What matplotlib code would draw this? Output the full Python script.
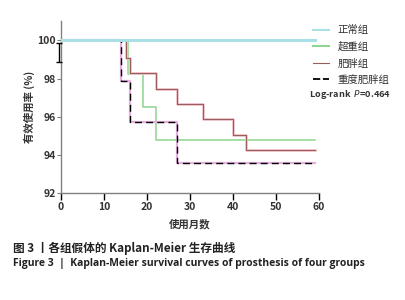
import matplotlib
matplotlib.use("Agg")
import matplotlib.pyplot as plt
from matplotlib.lines import Line2D

plt.rcParams['font.family'] = ['Noto Sans CJK SC', 'DejaVu Sans']

# Data (months, survival %)
normal_t = [0, 59]
normal_s = [100, 100]
over_t = [0, 15.5, 19, 22, 59]
over_s = [100, 98.25, 96.5, 94.8, 94.8]
obese_t = [0, 15, 16, 22, 27, 33, 40, 43, 59]
obese_s = [100, 99.1, 98.3, 97.46, 96.68, 95.89, 95.07, 94.27, 94.27]
severe_t = [0, 14, 16, 27, 59]
severe_s = [100, 97.9, 95.72, 93.6, 93.6]

labels = ['正常组', '超重组', '肥胖组', '重度肥胖组']
xticks = [0, 10, 20, 30, 40, 50, 60]
yticks = [92, 94, 96, 98, 100]

fig = plt.figure(figsize=(4.05, 3.0), dpi=100)
ax = fig.add_axes([0.1506, 0.3557, 0.788 - 0.1506, 0.929 - 0.3557])

c_normal = '#a8e0e6'
c_over = '#8fd48f'
ax.step(over_t, over_s, where='post', color=c_over, lw=1.1, zorder=3)
ax.step(obese_t, obese_s, where='post', color='#f2c6cc', lw=2.0, zorder=3)
ax.step(obese_t, obese_s, where='post', color='#9a5c5c', lw=0.8, zorder=4)
ax.step(severe_t, severe_s, where='post', color='#e8b0e0', lw=1.6, zorder=4)
ax.step(severe_t, severe_s, where='post', color='black', lw=1.0, ls=(0, (5, 3)), zorder=5)
ax.step(normal_t, normal_s, where='post', color=c_normal, lw=2.2, zorder=6)

# bracket marker near y-axis
ax.errorbar([-0.4], [99.35], yerr=[[0.5], [0.5]], fmt='none', ecolor='black',
            elinewidth=1.0, capsize=2.5, capthick=1.0, clip_on=False, zorder=7)

ax.set_xlim(0, 60)
ax.set_ylim(92, 101)
ax.set_xticks(xticks)
ax.set_yticks(yticks)
for s in ['top', 'right']:
    ax.spines[s].set_visible(False)
for s in ['left', 'bottom']:
    ax.spines[s].set_color('#808080')
    ax.spines[s].set_linewidth(1.0)
ax.tick_params(axis='x', direction='out', length=5, width=1.0, color='black',
               labelsize=7.5, pad=1.5)
ax.tick_params(axis='y', direction='out', length=3, width=0.8, color='#808080',
               labelsize=7.5, pad=1)
for lab in ax.get_xticklabels() + ax.get_yticklabels():
    lab.set_fontweight('bold')
    lab.set_color('#333333')

ax.set_xlabel('使用月数', fontsize=7.5, fontweight='bold', color='#333333', labelpad=5)
ax.set_ylabel('有效使用率 (%)', fontsize=7.5, fontweight='bold', color='#333333', labelpad=1)

handles = [
    Line2D([], [], color=c_normal, lw=1.5),
    Line2D([], [], color=c_over, lw=1.5),
    Line2D([], [], color='#9a5c5c', lw=0.8),
    Line2D([], [], color='black', lw=1.3, ls=(0, (4, 1.5))),
]
leg = fig.legend(handles, labels, loc='upper left', bbox_to_anchor=(0.762, 0.93),
                 frameon=False, fontsize=7.5, handlelength=1.6, handletextpad=0.8,
                 labelspacing=0.62, borderaxespad=0)
for t in leg.get_texts():
    t.set_color('#333333')

fig.text(0.763, 0.685, 'Log-rank  $P$=0.464', fontsize=6.6, fontweight='bold',
         color='#333333', ha='left', va='center')

fig.text(0.032, 0.173, '图 3 丨各组假体的 Kaplan-Meier 生存曲线', fontsize=8.4,
         fontweight='bold', color='#222222', ha='left', va='center')
fig.text(0.032, 0.122, 'Figure 3  |  Kaplan-Meier survival curves of prosthesis of four groups',
         fontsize=7.5, fontweight='bold', color='#222222', ha='left', va='center',
         family=['Open Sans', 'DejaVu Sans'])

fig.savefig('out.png', dpi=100)
